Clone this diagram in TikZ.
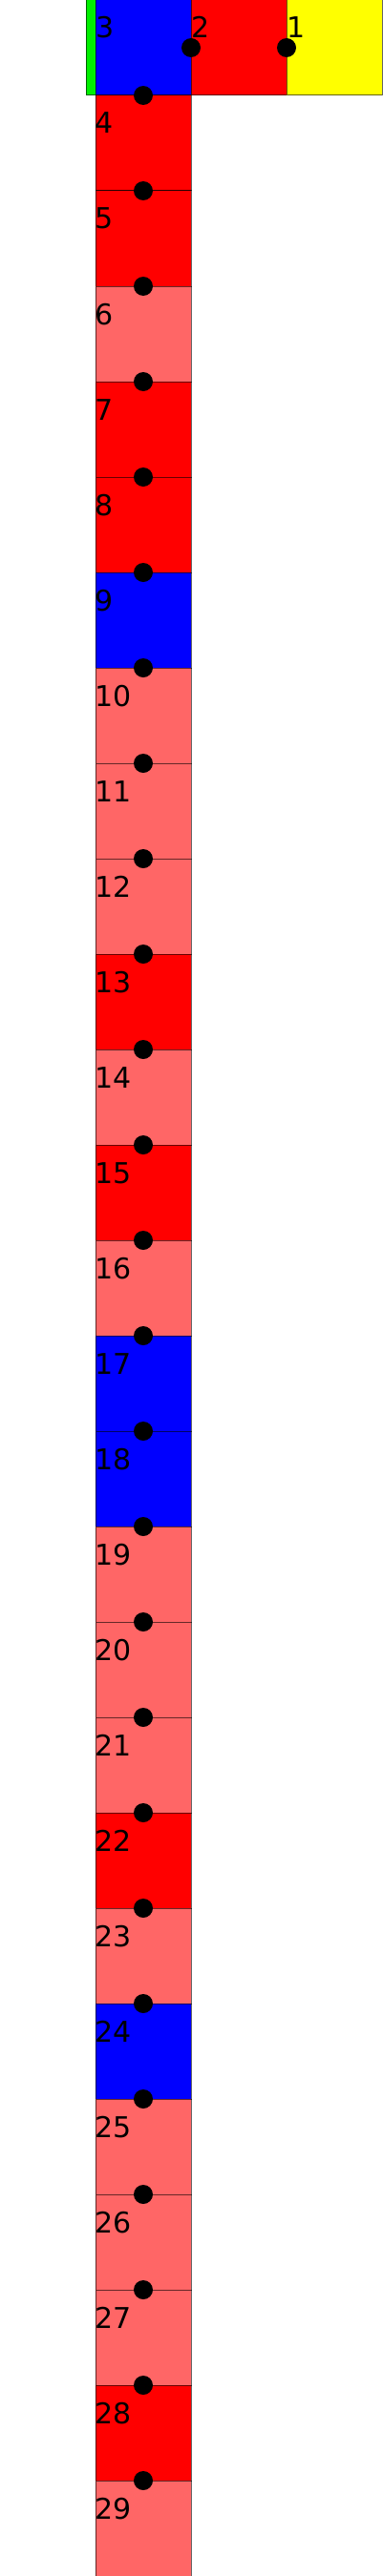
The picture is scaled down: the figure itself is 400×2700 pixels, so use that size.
\documentclass[tikz,border=0pt]{standalone}
\usepackage{fontspec}
\setmainfont{DejaVu Sans}
\definecolor{cblue}{RGB}{0,0,255}
\definecolor{cred}{RGB}{255,0,0}
\definecolor{clight}{RGB}{255,102,102}
\definecolor{cyellow}{RGB}{255,255,0}
\definecolor{cgreen}{RGB}{0,240,0}
\begin{document}
\begin{tikzpicture}[x=1pt,y=-1pt,
  cell/.style={draw=black,draw opacity=0.6,line width=1pt,minimum width=100pt,minimum height=100pt,inner sep=0pt,outer sep=0pt,anchor=north west},
  lbl/.style={anchor=base west,inner sep=0pt,font=\fontsize{30}{30}\selectfont},
  joint/.style={circle,fill=black,minimum size=20pt,inner sep=0pt}]
\useasboundingbox (0,0) rectangle (400,2700);
% top row
\node[cell,fill=cgreen,minimum width=10pt] (g) at (90,0) {};
\node[cell,fill=cblue] (s3) at (100,0) {};
\node[cell,fill=cred] (s2) at (200,0) {};
\node[cell,fill=cyellow] (s1) at (300,0) {};
% column
\foreach \n/\c in {4/cred,5/cred,6/clight,7/cred,8/cred,9/cblue,10/clight,11/clight,12/clight,13/cred,14/clight,15/cred,16/clight,17/cblue,18/cblue,19/clight,20/clight,21/clight,22/cred,23/clight,24/cblue,25/clight,26/clight,27/clight,28/cred,29/clight}{
  \node[cell,fill=\c] (s\n) at (100,{(\n-3)*100}) {};
}
% labels
\node[lbl] (l3) at (100,40) {3};
\node[lbl] (l2) at (200,40) {2};
\node[lbl] (l1) at (300,40) {1};
\foreach \n in {4,...,29}{
  \node[lbl] (l\n) at (99,{(\n-3)*100+40}) {\n};
}
% joints
\node[joint] (j32) at (s3.east) {};
\node[joint] (j21) at (s2.east) {};
\node[joint] (j34) at (s3.south) {};
\foreach \n in {4,...,28}{
  \node[joint] (j\n) at (s\n.south) {};
}
\end{tikzpicture}
\end{document}
